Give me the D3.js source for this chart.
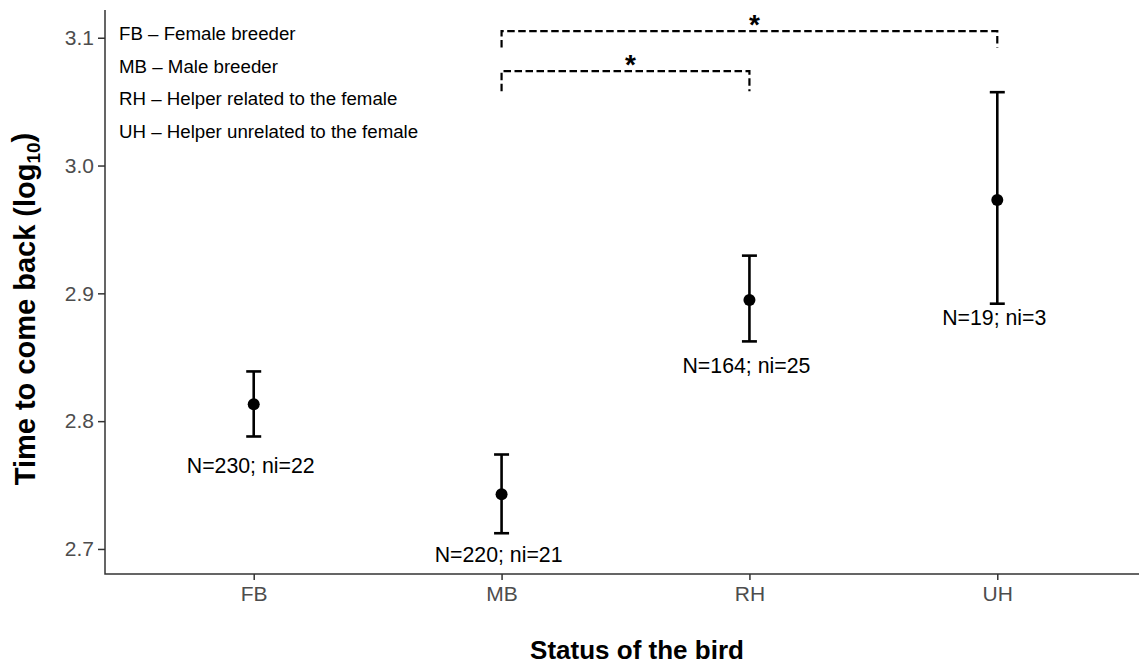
<!DOCTYPE html>
<html>
<head>
<meta charset="utf-8">
<script src="https://cdn.jsdelivr.net/npm/d3@7"></script>
<style>
  body { margin: 0; background: #fff; }
  svg text { font-family: "Liberation Sans", Arial, sans-serif; }
</style>
</head>
<body>
<svg id="chart"></svg>
<script>
// data
const statuses = ["FB", "MB", "RH", "UH"];
const means = [2.8133, 2.7428, 2.8948, 2.9731];
const lower = [2.7880, 2.7123, 2.8624, 2.8919];
const upper = [2.8389, 2.7739, 2.9295, 3.0574];
const nLabels = ["N=230; ni=22", "N=220; ni=21", "N=164; ni=25", "N=19; ni=3"];
const nLabelY = [2.7654, 2.6957, 2.8433, 2.8810];
const yTicks = [2.7, 2.8, 2.9, 3.0, 3.1];
const legendLines = [
  "FB \u2013 Female breeder",
  "MB \u2013 Male breeder",
  "RH \u2013 Helper related to the female",
  "UH \u2013 Helper unrelated to the female"
];
// significance brackets: from, to, top, leg end
const brackets = [
  { from: "MB", to: "UH", top: 3.1052, leg: 3.0924 },
  { from: "MB", to: "RH", top: 3.0739, leg: 3.0582 }
];

const width = 1139, height = 664;
const margin = { top: 10, right: -7, bottom: 90, left: 105 };
const innerW = width - margin.left - margin.right;
const innerH = height - margin.top - margin.bottom;

const svg = d3.select("#chart")
  .attr("width", width)
  .attr("height", height);

const chart = svg.append("g")
  .attr("transform", `translate(${margin.left},${margin.top})`);

const x = d3.scalePoint()
  .domain(statuses)
  .range([0, innerW])
  .padding(0.6);

const y = d3.scaleLinear()
  .domain([2.6804, 3.1217])
  .range([innerH, 0]);

// axes
const xAxis = d3.axisBottom(x).tickSizeOuter(0).tickSize(6).tickPadding(6);
const yAxis = d3.axisLeft(y).tickValues(yTicks).tickFormat(d3.format(".1f"))
  .tickSizeOuter(0).tickSize(7).tickPadding(4);

const xAxisG = chart.append("g")
  .attr("transform", `translate(0,${innerH})`)
  .call(xAxis);
const yAxisG = chart.append("g").call(yAxis);

[xAxisG, yAxisG].forEach(g => {
  g.select(".domain").remove();
  g.selectAll(".tick line").attr("stroke", "#333").attr("stroke-width", 1.5);
  g.selectAll(".tick text")
    .attr("fill", "#4d4d4d")
    .style("font-size", "21px")
    .style("font-family", "'Liberation Sans', Arial, sans-serif");
});

// axis lines
chart.append("path")
  .attr("d", `M0,0V${innerH}H${innerW}`)
  .attr("fill", "none")
  .attr("stroke", "#333")
  .attr("stroke-width", 1.5);

// error bars
const bars = chart.append("g");
statuses.forEach((s, i) => {
  const cx = x(s);
  bars.append("line")
    .attr("x1", cx).attr("x2", cx)
    .attr("y1", y(lower[i])).attr("y2", y(upper[i]))
    .attr("stroke", "#000").attr("stroke-width", 2.6);
  [lower[i], upper[i]].forEach(v => {
    bars.append("line")
      .attr("x1", cx - 7.5).attr("x2", cx + 7.5)
      .attr("y1", y(v)).attr("y2", y(v))
      .attr("stroke", "#000").attr("stroke-width", 2.6);
  });
  bars.append("circle")
    .attr("cx", cx).attr("cy", y(means[i]))
    .attr("r", 6).attr("fill", "#000");
  bars.append("text")
    .attr("x", cx - 3).attr("y", y(nLabelY[i]))
    .attr("dy", "0.35em")
    .attr("text-anchor", "middle")
    .attr("font-size", "21.3px")
    .attr("fill", "#000")
    .text(nLabels[i]);
});

// significance brackets
brackets.forEach(b => {
  const x1 = x(b.from), x2 = x(b.to);
  chart.append("path")
    .attr("d", `M${x1},${y(b.leg)}V${y(b.top)}H${x2}V${y(b.leg)}`)
    .attr("fill", "none")
    .attr("stroke", "#000")
    .attr("stroke-width", 2.2)
    .attr("stroke-dasharray", "7.5,3.5");
  chart.append("text")
    .attr("x", (x1 + x2) / 2 + 5)
    .attr("y", y(b.top) + 3)
    .attr("text-anchor", "middle")
    .attr("font-size", "28px")
    .attr("font-weight", "bold")
    .text("*");
});

// legend text
legendLines.forEach((t, i) => {
  svg.append("text")
    .attr("x", 119)
    .attr("y", 40 + i * 32.5)
    .attr("font-size", "18.7px")
    .attr("fill", "#000")
    .text(t);
});

// axis titles
svg.append("text")
  .attr("x", 637)
  .attr("y", 659)
  .attr("text-anchor", "middle")
  .attr("font-size", "26px")
  .attr("font-weight", "bold")
  .text("Status of the bird");

const yTitle = svg.append("text")
  .attr("transform", "translate(35,309) rotate(-90)")
  .attr("text-anchor", "middle")
  .attr("font-size", "29px")
  .attr("font-weight", "bold");
yTitle.append("tspan").text("Time to come back (log");
yTitle.append("tspan").attr("font-size", "19px").attr("dy", "0.25em").text("10");
yTitle.append("tspan").attr("dy", "-0.25em").text(")");
</script>
</body>
</html>
